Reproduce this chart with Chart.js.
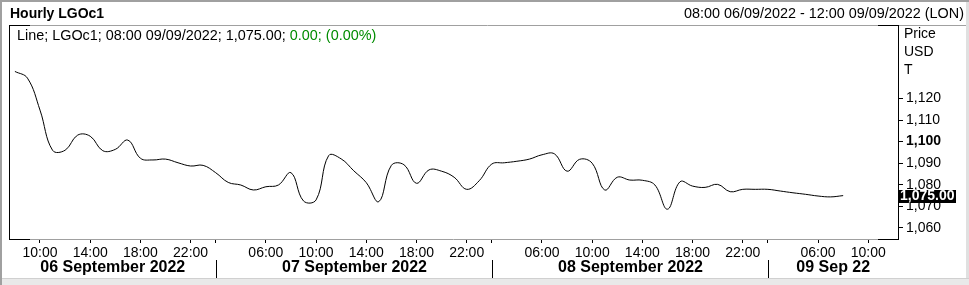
<!DOCTYPE html>
<html><head><meta charset="utf-8">
<script src="https://cdn.jsdelivr.net/npm/chart.js@4/dist/chart.umd.min.js"></script>
<style>html,body{margin:0;padding:0;background:#fff;overflow:hidden}#wrap{position:relative;width:969px;height:285px}canvas{display:block}</style>
</head><body><div id="wrap"><canvas id="c" width="969" height="285"></canvas></div>
<script>
// ---- data ----
const dayNames = ["06 September 2022", "07 September 2022", "08 September 2022", "09 Sep 22"];
const dayDates = ["06/09/2022", "07/09/2022", "08/09/2022", "09/09/2022"];
const hours06 = ["08:00","09:00","10:00","11:00","12:00","13:00","14:00","15:00","16:00","17:00","18:00","19:00","20:00","21:00","22:00","23:00"];
const hours07 = ["02:00","03:00","04:00","05:00","06:00","07:00","08:00","09:00","10:00","11:00","12:00","13:00","14:00","15:00","16:00","17:00","18:00","19:00","20:00","21:00","22:00","23:00"];
const hours08 = ["02:00","03:00","04:00","05:00","06:00","07:00","08:00","09:00","10:00","11:00","12:00","13:00","14:00","15:00","16:00","17:00","18:00","19:00","20:00","21:00","22:00","23:00"];
const hours09 = ["02:00","03:00","04:00","05:00","06:00","07:00","08:00","09:00","10:00","11:00","12:00"];
const prices = [
  1132.5, 1129.4, 1114.6, 1096.0, 1096.0, 1103.0, 1102.5, 1095.8, 1096.4, 1100.7,
  1092.3, 1091.5, 1091.9, 1090.2, 1088.7, 1089.0, 1085.6, 1081.1, 1079.9, 1077.6,
  1079.1, 1079.9, 1085.6, 1072.5, 1073.0, 1093.5, 1092.0, 1086.5, 1081.0, 1072.2,
  1089.0, 1089.3, 1080.7, 1086.9, 1086.3, 1083.5, 1077.9, 1081.9, 1089.6, 1090.2,
  1090.9, 1091.9, 1093.9, 1094.3, 1086.3, 1091.8, 1090.0, 1077.6, 1083.5, 1082.2,
  1082.1, 1079.9, 1068.7, 1081.4, 1079.4, 1078.8, 1080.2, 1076.8, 1077.9, 1077.9,
  1077.9, 1077.1, 1076.3, 1075.6, 1074.8, 1074.4, 1075.0
];
const yTicks = [1060, 1070, 1080, 1090, 1100, 1110, 1120];
const boldTick = 1100;
const labeledHours = ["10:00", "14:00", "18:00", "22:00", "06:00"];
const dayStartHour = "02:00";
const lastPrice = 1075.00;
const titleText = "Hourly LGOc1";
const rangeText = "08:00 06/09/2022 - 12:00 09/09/2022 (LON)";
const legendBlack = "Line; LGOc1; 08:00 09/09/2022; 1,075.00; ";
const legendGreen = "0.00; (0.00%)";
const axisTitle = ["Price", "USD", "T"];

// ---- derived ----
const hourGroups = [hours06, hours07, hours08, hours09];
const categories = [];
const catDay = [];
hourGroups.forEach((g, d) => g.forEach(h => { categories.push(h); catDay.push(d); }));
const points = prices.map((v, i) => ({ x: i, y: v }));
const xTickIdx = [];
categories.forEach((h, i) => { if (labeledHours.includes(h) || (h === dayStartHour)) xTickIdx.push(i); });
const dayStartIdx = [];
categories.forEach((h, i) => { if (i > 0 && catDay[i] !== catDay[i - 1]) dayStartIdx.push(i); });

const FONT = "'Liberation Sans', Arial, sans-serif";
const fmt = v => String(v).replace(/\B(?=(\d{3})+(?!\d))/g, ",");

const deco = {
  id: 'deco',
  beforeDraw(chart) {
    const c = chart.ctx;
    c.save();
    c.fillStyle = '#fff';
    c.fillRect(0, 0, chart.width, chart.height);
    c.restore();
  },
  afterDraw(chart) {
    const c = chart.ctx;
    const a = chart.chartArea;
    const xs = chart.scales.x, ys = chart.scales.y;
    c.save();
    // outer frame
    c.fillStyle = '#a0a0a0';
    c.fillRect(0, 0, 2, chart.height);
    c.fillRect(0, 0, chart.width, 2);
    c.fillStyle = '#e9e9e9';
    c.fillRect(2, 278, chart.width - 2, 7);
    c.fillStyle = '#d0d0d0';
    c.fillRect(2, 278, chart.width - 2, 1);
    c.fillStyle = '#e0e0e0';
    c.fillRect(966, 2, 3, 276);
    // header separator and plot frame
    c.lineWidth = 1;
    c.strokeStyle = '#a0a0a0';
    c.beginPath();
    c.moveTo(a.left, a.top + 0.5); c.lineTo(966, a.top + 0.5);
    c.moveTo(a.left, a.bottom + 0.5); c.lineTo(a.right, a.bottom + 0.5);
    c.stroke();
    c.strokeStyle = '#000';
    c.beginPath();
    c.moveTo(a.left + 0.5, a.top); c.lineTo(a.left + 0.5, a.bottom + 1);
    c.moveTo(a.right + 0.5, a.top); c.lineTo(a.right + 0.5, a.bottom + 1);
    c.moveTo(a.left, a.top + 0.5); c.lineTo(a.left + 21, a.top + 0.5);
    c.moveTo(a.right - 20, a.top + 0.5); c.lineTo(a.right + 1, a.top + 0.5);
    c.moveTo(a.left, a.bottom + 0.5); c.lineTo(a.left + 21, a.bottom + 0.5);
    c.moveTo(a.right - 20, a.bottom + 0.5); c.lineTo(a.right + 1, a.bottom + 0.5);
    c.stroke();
    // title row
    c.fillStyle = '#000';
    c.textBaseline = 'middle';
    c.font = "bold 14px " + FONT;
    c.textAlign = 'left';
    c.fillText(titleText, 10, 14);
    c.font = "14.4px " + FONT;
    c.textAlign = 'right';
    c.fillText(rangeText, 964, 14);
    // legend line
    c.textAlign = 'left';
    c.fillText(legendBlack, 17, 36);
    const w = c.measureText(legendBlack).width;
    c.fillStyle = '#008c00';
    c.fillText(legendGreen, 17 + w, 36);
    // axis title
    c.fillStyle = '#000';
    c.font = "14px " + FONT;
    axisTitle.forEach((t, k) => c.fillText(t, 904, 34 + k * 18));
    // day row
    const seps = dayStartIdx.map(i => Math.round(xs.getPixelForValue(i)) + 0.5);
    c.strokeStyle = '#000';
    c.beginPath();
    seps.forEach(x => { c.moveTo(x, 260); c.lineTo(x, 278); });
    c.stroke();
    const bounds = [a.left].concat(seps).concat([a.right]);
    c.font = "bold 16px " + FONT;
    c.textAlign = 'center';
    dayNames.forEach((t, d) => c.fillText(t, (bounds[d] + bounds[d + 1]) / 2, 268));
    // last price tag
    const py = Math.round(ys.getPixelForValue(lastPrice));
    c.fillStyle = '#000';
    c.fillRect(a.right, py - 6, 58, 13);
    c.fillStyle = '#fff';
    c.font = "bold 14px " + FONT;
    c.textAlign = 'left';
    c.fillText(lastPrice.toFixed(2).replace(/\B(?=(\d{3})+(?!\d))/, ","), a.right + 2, py + 0.5);
    c.restore();
  }
};

new Chart(document.getElementById('c'), {
  type: 'line',
  data: {
    datasets: [{
      data: points,
      borderColor: '#000',
      borderWidth: 1,
      pointRadius: 0,
      tension: 0.4,
      fill: false
    }]
  },
  options: {
    responsive: false,
    animation: false,
    devicePixelRatio: 1,
    layout: { padding: { left: 9, top: 25, right: 0, bottom: 0 } },
    plugins: { legend: { display: false }, tooltip: { enabled: false }, title: { display: false } },
    scales: {
      x: {
        type: 'linear', position: 'bottom', min: -0.47, max: 70.37,
        afterBuildTicks: s => { s.ticks = xTickIdx.map(v => ({ value: v })); },
        afterFit: s => { s.height = 46; },
        ticks: {
          autoSkip: false, maxRotation: 0, minRotation: 0, padding: 2, color: '#000',
          font: { family: FONT, size: 14 },
          callback: v => { const h = categories[Math.round(v)]; return labeledHours.includes(h) ? h : ''; }
        },
        grid: { drawOnChartArea: false, drawTicks: true, tickLength: 4, color: '#000' },
        border: { display: false }
      },
      y: {
        type: 'linear', position: 'right', min: 1054.9, max: 1154,
        afterBuildTicks: s => { s.ticks = yTicks.map(v => ({ value: v })); },
        afterFit: s => { s.width = 71; },
        ticks: {
          padding: 3, color: '#000',
          font: ctx => ({ family: FONT, size: 14, weight: (ctx.tick && ctx.tick.value === boldTick) ? 'bold' : 'normal' }),
          callback: v => fmt(v)
        },
        grid: { drawOnChartArea: false, drawTicks: true, tickLength: 5, color: '#000' },
        border: { display: false }
      }
    }
  },
  plugins: [deco]
});
</script>
</body></html>
